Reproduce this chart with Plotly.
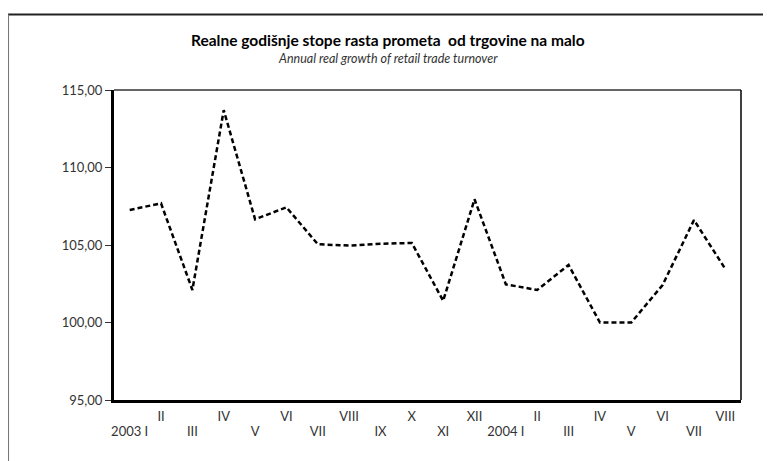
import plotly.graph_objects as go

# months: 2003 I ... 2004 VIII
months = ["2003 I", "II", "III", "IV", "V", "VI", "VII", "VIII", "IX", "X",
          "XI", "XII", "2004 I", "II", "III", "IV", "V", "VI", "VII", "VIII"]
growth = [107.26, 107.69, 102.10, 113.70, 106.66, 107.43, 105.05, 104.96, 105.08, 105.13,
          101.40, 107.95, 102.46, 102.10, 103.71, 100.00, 100.00, 102.42, 106.61, 103.45]

title_sr = "Realne godišnje stope rasta prometa  od trgovine na malo"
title_en = "Annual real growth of retail trade turnover"

idx = list(range(len(months)))
top_row = [m if i % 2 == 1 else "" for i, m in enumerate(months)]
bottom_row = [m if i % 2 == 0 else "" for i, m in enumerate(months)]

FONT = "Lato"
fig = go.Figure()
fig.add_trace(go.Scatter(x=idx, y=growth, mode="lines",
                         line=dict(color="black", width=2.5, dash="5px,3px"),
                         hoverinfo="skip", showlegend=False))
# invisible copy so the second (label) axis gets drawn
fig.add_trace(go.Scatter(x=idx, y=growth, mode="lines", xaxis="x2",
                         line=dict(color="rgba(0,0,0,0)", width=0),
                         hoverinfo="skip", showlegend=False))

tickfont = dict(family=FONT, size=13, color="#333")
# page body has an 8px margin, so margins are shifted by 8px
fig.update_layout(
    width=771, height=461,
    margin=dict(l=106, r=38, t=82, b=69),
    paper_bgcolor="white", plot_bgcolor="white",
    separators=",.",
    xaxis=dict(range=[-0.5, 19.5], tickvals=idx, ticktext=top_row,
               showgrid=False, zeroline=False, ticks="",
               showline=True, linecolor="black", linewidth=3,
               tickfont=tickfont, ticklabelstandoff=2),
    xaxis2=dict(overlaying="x", matches="x", side="bottom", anchor="y",
                tickvals=idx, ticktext=bottom_row,
                showgrid=False, zeroline=False, ticks="", showline=False,
                tickfont=tickfont, ticklabelstandoff=22),
    yaxis=dict(range=[95, 115], dtick=5, tickformat=".2f",
               showgrid=False, zeroline=False,
               ticks="outside", ticklen=6, tickcolor="#333", tickwidth=1,
               showline=True, linecolor="black", linewidth=3,
               tickfont=tickfont),
    shapes=[
        # thin top/right border of the plot area
        dict(type="line", xref="paper", yref="paper", x0=0, x1=1, y0=1, y1=1,
             line=dict(color="#666", width=2)),
        dict(type="line", xref="paper", yref="paper", x0=1, x1=1, y0=0, y1=1,
             line=dict(color="black", width=1.5)),
        # outer frame (top and left edges)
        dict(type="line", xref="paper", yref="paper", x0=-0.169, x1=1.08, y0=1.2435, y1=1.2435,
             line=dict(color="#222", width=2)),
        dict(type="line", xref="paper", yref="paper", x0=-0.169, x1=-0.169, y0=1.2435, y1=-0.25,
             line=dict(color="#777", width=2)),
    ],
    annotations=[
        dict(text="<b>" + title_sr + "</b>", xref="paper", yref="paper", x=0.437, y=1.161,
             xanchor="center", yanchor="middle", showarrow=False,
             font=dict(family=FONT, size=15.5, color="black")),
        dict(text="<i>" + title_en + "</i>", xref="paper", yref="paper", x=0.437, y=1.103,
             xanchor="center", yanchor="middle", showarrow=False,
             font=dict(family=FONT, size=12.5, color="#333")),
    ],
)

fig.write_html("out.html")
